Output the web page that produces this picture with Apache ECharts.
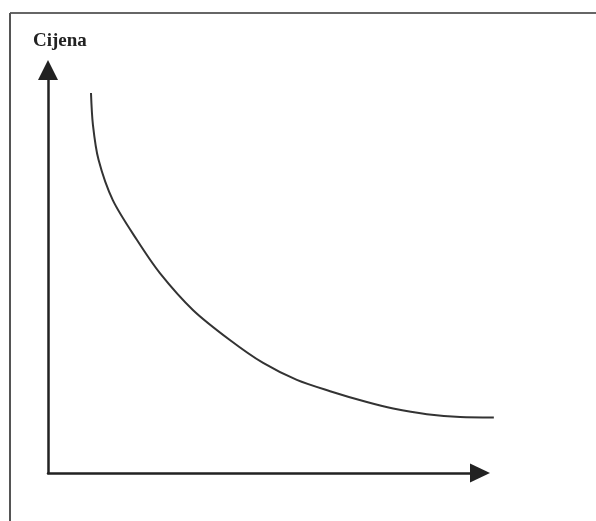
<!DOCTYPE html>
<html>
<head>
<meta charset="utf-8">
<script src="https://cdn.jsdelivr.net/npm/echarts@6/dist/echarts.min.js"></script>
<style>html,body{margin:0;padding:0;background:#fff;}#c{width:596px;height:521px;}</style>
</head>
<body>
<div id="c"></div>
<script>
var yAxisName = 'Cijena';
var quantity = [9.95, 10.4, 11.7, 15.0, 20.6, 25.9, 33.6, 42.1, 49.8, 57.6, 65.3, 73.8, 79.9, 87.7, 95.4, 103.2];
var price    = [94.3, 86.4, 77.7, 67.7, 57.8, 49.6, 40.4, 33.0, 27.3, 23.1, 20.3, 17.6, 16.0, 14.6, 13.9, 13.8];

var hidden = { show: false };
var chart = echarts.init(document.getElementById('c'));
chart.setOption({
  animation: false,
  backgroundColor: '#fff',
  title: {
    text: yAxisName, left: 28, top: 27,
    textStyle: { fontFamily: 'Liberation Serif', fontSize: 19, fontWeight: 'bold', color: '#222' }
  },
  graphic: [
    { type: 'line', shape: { x1: 10, y1: 13, x2: 596, y2: 13 }, style: { stroke: '#666', lineWidth: 2 } },
    { type: 'line', shape: { x1: 10, y1: 13, x2: 10, y2: 521 }, style: { stroke: '#555', lineWidth: 2 } }
  ],
  grid: [
    { left: 48, right: 100, top: 70, bottom: 48 },
    { left: 48, right: 116, top: 70, bottom: 48 }
  ],
  xAxis: [
    { type: 'value', gridIndex: 0, min: 0, max: 103.7, show: false },
    {
      type: 'value', gridIndex: 1, min: 0, max: 100,
      axisLine: { show: true, symbol: ['none', 'triangle'], symbolSize: [19, 20], lineStyle: { color: '#222', width: 2.5 } },
      axisTick: hidden, axisLabel: hidden, splitLine: hidden
    }
  ],
  yAxis: [
    {
      type: 'value', gridIndex: 0, min: 0, max: 100,
      axisLine: { show: true, onZero: false, symbol: ['none', 'triangle'], symbolSize: [20, 20], lineStyle: { color: '#222', width: 2.5 } },
      axisTick: hidden, axisLabel: hidden, splitLine: hidden
    },
    { type: 'value', gridIndex: 1, min: 0, max: 100, show: false }
  ],
  series: [{
    type: 'line',
    xAxisIndex: 0, yAxisIndex: 0,
    data: quantity.map(function (q, i) { return [q, price[i]]; }),
    smooth: 0.3,
    showSymbol: false,
    lineStyle: { color: '#333', width: 2 }
  }]
});
</script>
</body>
</html>
